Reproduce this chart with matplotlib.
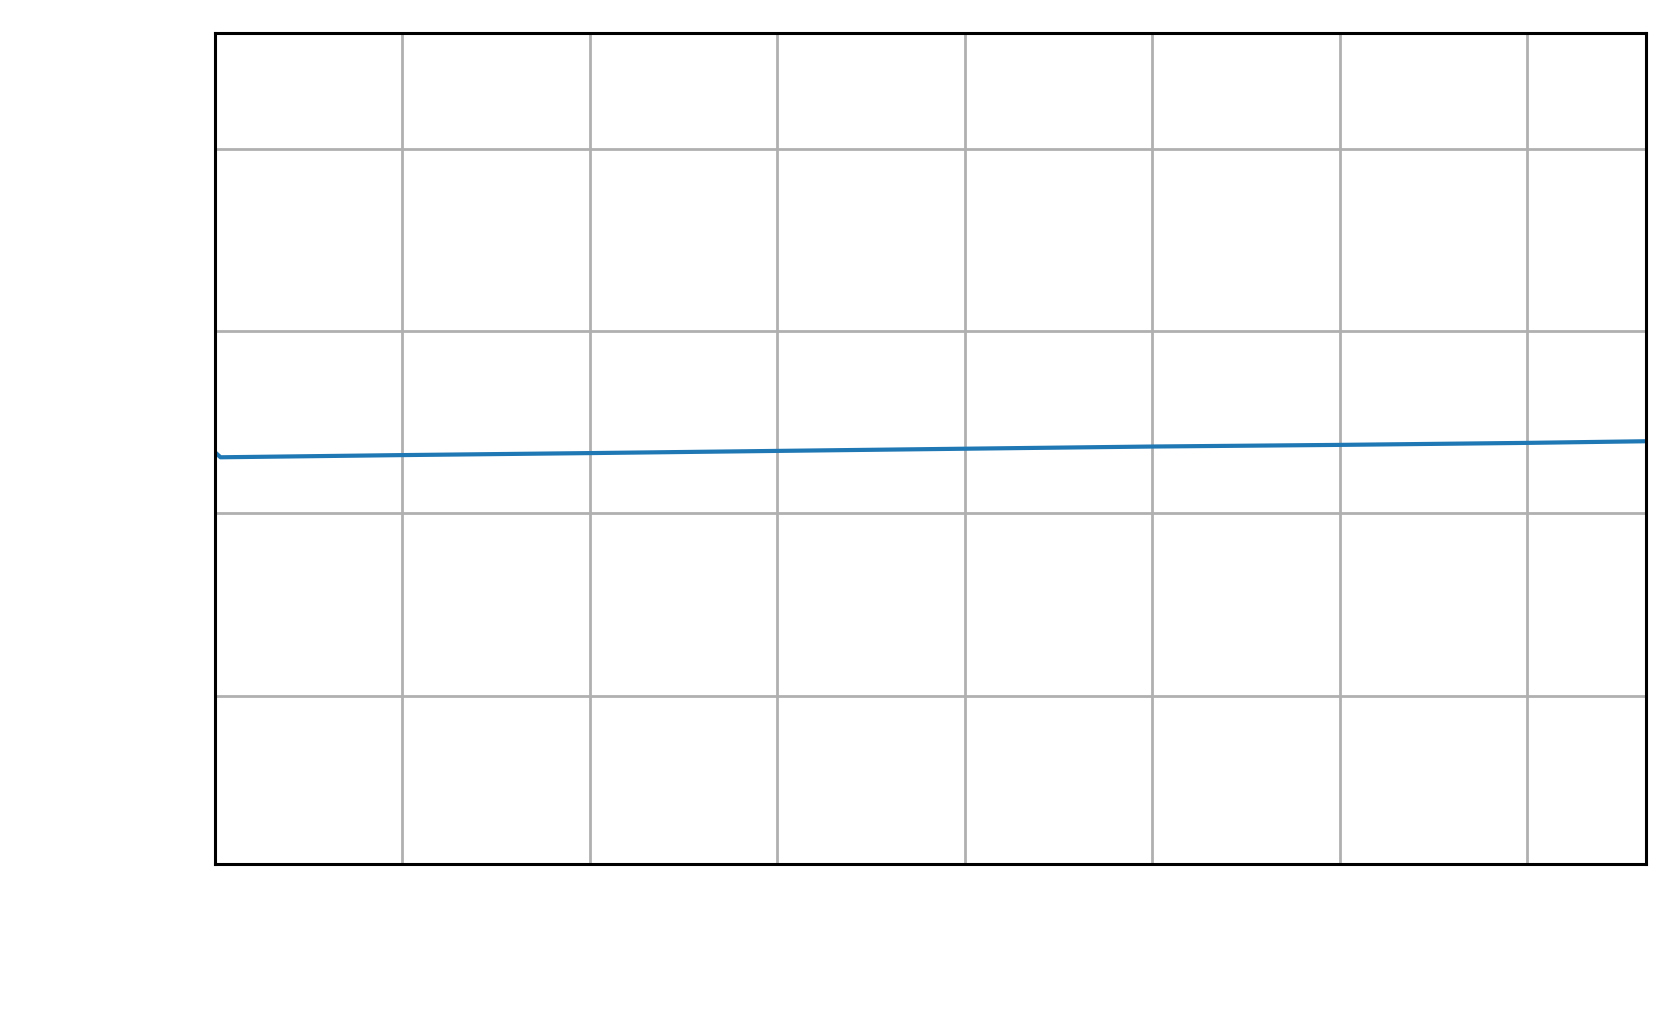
import matplotlib
matplotlib.use("Agg")
import matplotlib.pyplot as plt

x_values = [0.0, 0.03, 1, 2, 3, 4, 5, 6, 7, 7.634]
y_values = [2.335, 2.307, 2.319, 2.330, 2.342, 2.354, 2.366, 2.375, 2.386, 2.395]
x_ticks = [0, 1, 2, 3, 4, 5, 6, 7]
y_ticks = [1, 2, 3, 4]

fig = plt.figure(figsize=(1679 / 200, 1014 / 200), dpi=200)
ax = fig.add_axes([0.128, 0.148, 0.8523, 0.8195])
ax.plot(x_values, y_values, color="#1f77b4", linewidth=1.5)
ax.set_xlim(0, 7.634)
ax.set_ylim(0.076, 4.635)
ax.set_xticks(x_ticks)
ax.set_yticks(y_ticks)
ax.grid(True, color="#b0b0b0", linewidth=1.0)
ax.tick_params(length=0, labelbottom=False, labelleft=False)
for s in ax.spines.values():
    s.set_linewidth(1.1)
    s.set_color("black")
fig.savefig("out.png", dpi=200)
